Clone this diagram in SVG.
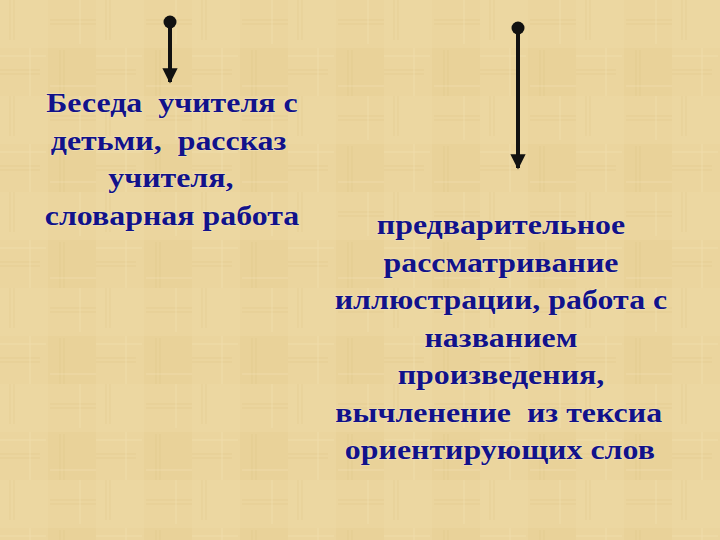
<svg xmlns="http://www.w3.org/2000/svg" width="720" height="540" viewBox="0 0 720 540">
<defs>
<pattern id="tex" x="0" y="0" width="96" height="96" patternUnits="userSpaceOnUse">
<rect width="96" height="96" fill="#ebd59e"/>
<rect x="0" y="0" width="48" height="48" fill="#eedaa6" opacity="0.4"/>
<rect x="48" y="48" width="48" height="48" fill="#e6cc90" opacity="0.3"/>
<g stroke="#dcc083" stroke-width="1" opacity="0.4">
<line x1="10" y1="0" x2="10" y2="40"/><line x1="14" y1="0" x2="14" y2="40"/>
<line x1="60" y1="50" x2="60" y2="96"/><line x1="64" y1="50" x2="64" y2="96"/>
<line x1="0" y1="70" x2="40" y2="70"/><line x1="0" y1="74" x2="40" y2="74"/>
<line x1="50" y1="20" x2="96" y2="20"/><line x1="50" y1="24" x2="96" y2="24"/>
</g>
<g stroke="#f4e2b6" stroke-width="1" opacity="0.5">
<line x1="30" y1="48" x2="30" y2="96"/><line x1="80" y1="0" x2="80" y2="44"/>
<line x1="0" y1="56" x2="46" y2="56"/><line x1="50" y1="86" x2="96" y2="86"/>
</g>
</pattern>
<marker id="ah" viewBox="0 0 10 10" refX="9" refY="5" markerWidth="3.8" markerHeight="3.8" orient="auto" markerUnits="strokeWidth">
<path d="M0,0 L10,5 L0,10 z" fill="#111"/>
</marker>
</defs>
<style>
.t{font-family:"Liberation Serif","Times New Roman",serif;font-weight:bold;font-size:28px;fill:#12128a;text-anchor:middle;white-space:pre;paint-order:stroke;stroke:#f6ecc8;stroke-width:1.2px;stroke-opacity:0.6}
.c{stroke:#111;stroke-width:4;fill:none}
</style>
<rect width="720" height="540" fill="url(#tex)"/>
<g id="connectors">
<line class="c" x1="170" y1="22" x2="170" y2="82" marker-end="url(#ah)"/>
<circle cx="170" cy="22" r="6.5" fill="#111"/>
<line class="c" x1="518" y1="28" x2="518" y2="168" marker-end="url(#ah)"/>
<circle cx="518" cy="28" r="6.5" fill="#111"/>
</g>
<g id="node-left" transform="translate(172,0) scale(1.14,1) translate(-172,0)">
<text class="t" x="172" y="112">Беседа  учителя с</text>
<text class="t" x="169" y="150">детьми,  рассказ</text>
<text class="t" x="171" y="187">учителя,</text>
<text class="t" x="172" y="225">словарная работа</text>
</g>
<g id="node-right" transform="translate(501,0) scale(1.14,1) translate(-501,0)">
<text class="t" x="501" y="234">предварительное</text>
<text class="t" x="501" y="272">рассматривание</text>
<text class="t" x="501" y="309">иллюстрации, работа с</text>
<text class="t" x="501" y="347">названием</text>
<text class="t" x="501" y="384">произведения,</text>
<text class="t" x="499" y="422">вычленение  из тексиа</text>
<text class="t" x="500" y="459">ориентирующих слов</text>
</g>
</svg>
